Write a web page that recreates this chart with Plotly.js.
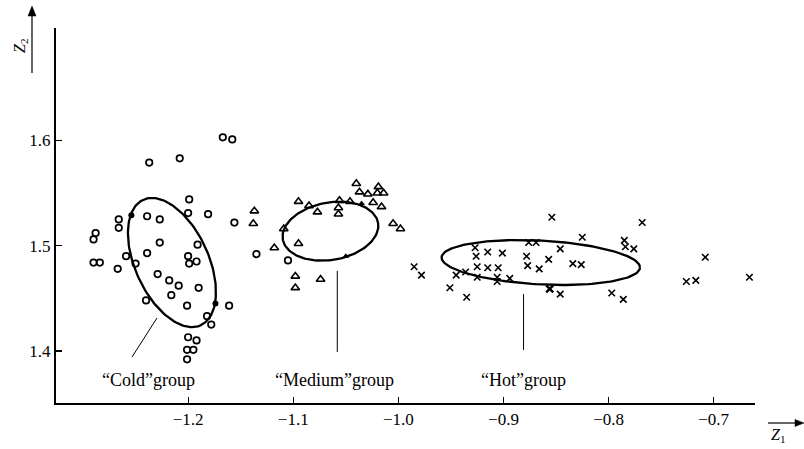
<!DOCTYPE html>
<html>
<head>
<meta charset="utf-8">
<script src="https://cdn.plot.ly/plotly-3.0.1.min.js"></script>
<style>html,body{margin:0;padding:0;background:#fff;}#chart{width:804px;height:449px;}</style>
</head>
<body>
<div id="chart"></div>
<script>
// ---- data (Z1, Z2) ----
const coldZ1 = [-1.167,-1.158,-1.237,-1.208,-1.199,-1.200,-1.181,-1.156,-1.239,-1.227,-1.266,-1.266,-1.288,-1.290,-1.227,-1.191,-1.239,-1.259,-1.250,-1.290,-1.284,-1.267,-1.200,-1.199,-1.192,-1.229,-1.218,-1.209,-1.216,-1.190,-1.201,-1.240,-1.161,-1.182,-1.178,-1.200,-1.192,-1.201,-1.195,-1.201,-1.135,-1.105];
const coldZ2 = [1.603,1.601,1.579,1.583,1.544,1.531,1.530,1.522,1.528,1.525,1.525,1.517,1.512,1.506,1.503,1.501,1.493,1.490,1.483,1.484,1.484,1.478,1.490,1.483,1.485,1.473,1.467,1.462,1.453,1.460,1.443,1.448,1.443,1.433,1.425,1.413,1.410,1.401,1.401,1.392,1.492,1.486];
const coldMarkedZ1 = [-1.254,-1.174];
const coldMarkedZ2 = [1.529,1.445];

const mediumZ1 = [-1.040,-1.037,-1.029,-1.019,-1.020,-1.014,-1.024,-1.016,-1.095,-1.085,-1.077,-1.056,-1.046,-1.057,-1.057,-1.137,-1.138,-1.005,-0.998,-1.109,-1.095,-1.118,-1.098,-1.074,-1.098];
const mediumZ2 = [1.559,1.551,1.549,1.556,1.550,1.550,1.541,1.537,1.542,1.538,1.532,1.543,1.542,1.536,1.530,1.533,1.521,1.521,1.516,1.516,1.502,1.498,1.471,1.468,1.460];
const mediumMarkedZ1 = [-1.035,-1.050];
const mediumMarkedZ2 = [1.540,1.490];

const hotZ1 = [-0.854,-0.768,-0.927,-0.926,-0.915,-0.901,-0.876,-0.869,-0.825,-0.846,-0.878,-0.857,-0.834,-0.826,-0.877,-0.866,-0.925,-0.915,-0.905,-0.936,-0.945,-0.925,-0.906,-0.894,-0.906,-0.785,-0.784,-0.776,-0.985,-0.978,-0.951,-0.935,-0.846,-0.797,-0.786,-0.708,-0.726,-0.717,-0.666];
const hotZ2 = [1.527,1.522,1.498,1.490,1.494,1.493,1.503,1.503,1.508,1.497,1.490,1.487,1.483,1.482,1.481,1.478,1.480,1.479,1.479,1.475,1.472,1.470,1.470,1.469,1.466,1.505,1.499,1.497,1.480,1.472,1.460,1.451,1.454,1.455,1.449,1.489,1.466,1.467,1.470];
const hotMarkedZ1 = [-0.856];
const hotMarkedZ2 = [1.459];

// group ellipses: centre, semi-axes (Z units), rotation (deg)
const groupNames = ['\u201CCold\u201Dgroup','\u201CMedium\u201Dgroup','\u201CHot\u201Dgroup'];
const ellipseCenterZ1 = [-1.2154,-1.0646,-0.8645];
const ellipseCenterZ2 = [1.484,1.5138,1.484];
const ellipseSemiMajor = [0.0656,0.0460,0.0945];
const ellipseSemiMinor = [0.0349,0.0273,0.0208];
const ellipseAngle = [-65.4,9.9,-3.0];

// label anchors and leader lines (Z units)
const labelZ1 = [-1.238,-1.061,-0.881];
const labelZ2 = [1.372,1.372,1.372];
const leaderStartZ1 = [-1.2296,-1.0581,-0.8809];
const leaderStartZ2 = [1.4313,1.476,1.454];
const leaderEndZ1 = [-1.2534,-1.0581,-0.8809];
const leaderEndZ2 = [1.3942,1.399,1.401];

const xTickVals = [-1.2,-1.1,-1.0,-0.9,-0.8,-0.7];
const xTickText = ['\u22121.2','\u22121.1','\u22121.0','\u22120.9','\u22120.8','\u22120.7'];
const yTickVals = [1.4,1.5,1.6];
const yTickText = ['1.4','1.5','1.6'];

// ---- build ----
function ellipsePts(cx, cy, a, b, deg){
  const t = deg*Math.PI/180, xs=[], ys=[];
  for(let i=0;i<=160;i++){
    const p = 2*Math.PI*i/160;
    xs.push(cx + a*Math.cos(p)*Math.cos(t) - b*Math.sin(p)*Math.sin(t));
    ys.push(cy + a*Math.cos(p)*Math.sin(t) + b*Math.sin(p)*Math.cos(t));
  }
  return {xs, ys};
}

const traces = [];
for(let i=0;i<3;i++){
  const e = ellipsePts(ellipseCenterZ1[i], ellipseCenterZ2[i], ellipseSemiMajor[i], ellipseSemiMinor[i], ellipseAngle[i]);
  traces.push({x:e.xs, y:e.ys, type:'scatter', mode:'lines', line:{color:'#000', width:2.3}, hoverinfo:'skip'});
}
traces.push({x:coldZ1, y:coldZ2, type:'scatter', mode:'markers', name:'Cold',
  marker:{symbol:'circle-open', size:6.5, color:'#000', line:{width:1.7, color:'#000'}}});
traces.push({x:mediumZ1, y:mediumZ2, type:'scatter', mode:'markers', name:'Medium',
  marker:{symbol:'triangle-up-open', size:7.5, color:'#000', line:{width:1.6, color:'#000'}}});
traces.push({x:hotZ1, y:hotZ2, type:'scatter', mode:'markers', name:'Hot',
  marker:{symbol:'x-thin-open', size:6.5, color:'#000', line:{width:1.6, color:'#000'}}});
traces.push({x:coldMarkedZ1, y:coldMarkedZ2, type:'scatter', mode:'markers',
  marker:{symbol:'circle', size:6, color:'#000'}});
traces.push({x:mediumMarkedZ1, y:mediumMarkedZ2, type:'scatter', mode:'markers',
  marker:{symbol:'triangle-up', size:6, color:'#000'}});
traces.push({x:hotMarkedZ1, y:hotMarkedZ2, type:'scatter', mode:'markers',
  marker:{symbol:'x-thin-open', size:7, color:'#000', line:{width:2.5, color:'#000'}}});

// pixel -> paper helpers for the axis-name arrows (plot area 56..755 x 28..403)
const px = v => (v-56)/699;
const py = v => (403-v)/375;

const shapes = [];
for(let i=0;i<3;i++){
  shapes.push({type:'line', xref:'x', yref:'y', x0:leaderStartZ1[i], y0:leaderStartZ2[i], x1:leaderEndZ1[i], y1:leaderEndZ2[i], line:{color:'#000', width:1}});
}
// Z2 arrow (vertical) and Z1 arrow (horizontal)
shapes.push({type:'line', xref:'paper', yref:'paper', x0:px(32), y0:py(73), x1:px(32), y1:py(14), line:{color:'#000', width:1.2}});
shapes.push({type:'path', xref:'paper', yref:'paper',
  path:`M${px(32)},${py(6)} L${px(28)},${py(16)} L${px(36)},${py(16)} Z`, fillcolor:'#000', line:{color:'#000', width:0.5}});
shapes.push({type:'line', xref:'paper', yref:'paper', x0:px(768), y0:py(423), x1:px(797), y1:py(423), line:{color:'#000', width:1.2}});
shapes.push({type:'path', xref:'paper', yref:'paper',
  path:`M${px(804)},${py(423)} L${px(795)},${py(419.5)} L${px(795)},${py(426.5)} Z`, fillcolor:'#000', line:{color:'#000', width:0.5}});

const serif = 'Liberation Serif, Times New Roman, serif';
const annotations = [];
for(let i=0;i<3;i++){
  annotations.push({xref:'x', yref:'y', x:labelZ1[i], y:labelZ2[i], text:groupNames[i], showarrow:false,
    font:{family:serif, size:18, color:'#000'}, xanchor:'center', yanchor:'middle'});
}
annotations.push({xref:'paper', yref:'paper', x:px(20), y:py(46), text:'<i>Z</i><sub>2</sub>', showarrow:false,
  textangle:-90, font:{family:serif, size:16, color:'#000'}, xanchor:'center', yanchor:'middle'});
annotations.push({xref:'paper', yref:'paper', x:px(778), y:py(435), text:'<i>Z</i><sub>1</sub>', showarrow:false,
  font:{family:serif, size:16, color:'#000'}, xanchor:'center', yanchor:'middle'});

const layout = {
  width:804, height:449,
  margin:{l:56, r:49, t:28, b:46, pad:0},
  paper_bgcolor:'#fff', plot_bgcolor:'#fff',
  showlegend:false,
  font:{family:serif, size:17, color:'#000'},
  xaxis:{range:[-1.3257,-0.6607], tickvals:xTickVals, ticktext:xTickText, ticks:'inside', ticklen:6, tickwidth:1.2, tickcolor:'#000',
    showline:true, linewidth:2, linecolor:'#000', showgrid:false, zeroline:false, tickfont:{family:serif, size:17, color:'#000'}},
  yaxis:{range:[1.3505,1.7069], tickvals:yTickVals, ticktext:yTickText, ticks:'inside', ticklen:6, tickwidth:1.2, tickcolor:'#000',
    showline:true, linewidth:2, linecolor:'#000', showgrid:false, zeroline:false, tickfont:{family:serif, size:17, color:'#000'}},
  shapes:shapes,
  annotations:annotations
};

Plotly.newPlot('chart', traces, layout, {staticPlot:true, displayModeBar:false});
</script>
</body>
</html>
